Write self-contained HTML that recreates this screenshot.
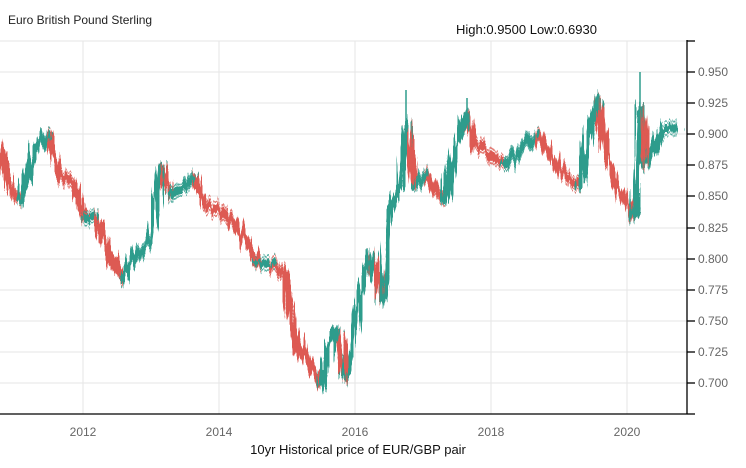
<!DOCTYPE html>
<html><head><meta charset="utf-8"><style>
html,body{margin:0;padding:0;background:#fff;}
svg{display:block;font-family:"Liberation Sans",sans-serif;}
</style></head><body>
<svg width="746" height="468" viewBox="0 0 746 468">
<g stroke="#e6e6e6" stroke-width="1">
<line x1="0" y1="41" x2="687" y2="41"/><line x1="0" y1="72" x2="687" y2="72"/><line x1="0" y1="103" x2="687" y2="103"/><line x1="0" y1="134" x2="687" y2="134"/><line x1="0" y1="165" x2="687" y2="165"/><line x1="0" y1="196" x2="687" y2="196"/><line x1="0" y1="228" x2="687" y2="228"/><line x1="0" y1="259" x2="687" y2="259"/><line x1="0" y1="290" x2="687" y2="290"/><line x1="0" y1="321" x2="687" y2="321"/><line x1="0" y1="352" x2="687" y2="352"/><line x1="0" y1="383" x2="687" y2="383"/>
<line x1="83" y1="41" x2="83" y2="414"/><line x1="219" y1="41" x2="219" y2="414"/><line x1="355" y1="41" x2="355" y2="414"/><line x1="491" y1="41" x2="491" y2="414"/><line x1="627" y1="41" x2="627" y2="414"/>
</g>
<defs>
<filter id="jit" x="-5%" y="-10%" width="110%" height="120%">
<feTurbulence type="fractalNoise" baseFrequency="0.35 0.01" numOctaves="2" seed="3" result="n"/>
<feDisplacementMap in="SourceGraphic" in2="n" scale="18" xChannelSelector="A" yChannelSelector="R"/>
</filter>
<g id="ser" fill="none" stroke-linecap="round">
<path stroke="#dd5a52" d="M0 150L10 190M10 190L20 200M48 135L60 175M60 175L75 185M75 185L85 220M95 215L108 250M108 250L122 280M160 165L170 195M195 175L205 205M205 205L220 210M220 210L232 220M232 220L245 240M245 240L258 265M270 262L285 275M285 275L292 320M292 320L300 350M300 350L310 365M310 365L322 385M338 330L345 375M372 255L382 300M407 125L415 185M425 175L435 190M435 190L445 200M467 115L475 145M475 145L490 155M490 155L505 165M535 135L550 155M550 155L565 175M565 175L580 185M598 100L605 150M605 150L615 185M615 185L625 200M625 200L635 215M640 110L645 165"/>
<path stroke="#2e9c8c" d="M20 200L35 150M35 150L48 135M85 220L95 215M122 280L135 255M135 255L150 240M150 240L160 165M170 195L185 185M185 185L195 175M258 265L270 262M322 385L330 345M330 345L338 330M345 375L350 365M350 365L360 295M360 295L372 255M382 300L390 210M390 210L400 185M400 185L407 125M415 185L425 175M445 200L455 150M455 150L467 115M505 165L520 150M520 150L535 135M580 185L590 130M590 130L598 100M635 215L640 110M645 165L660 130M660 130L670 130M670 130L678 127"/>
</g>
</defs>
<g filter="url(#jit)">
<use href="#ser" stroke-width="8"/>
<use href="#ser" stroke-width="1.5" transform="translate(0,-7)" opacity="0.8"/>
<use href="#ser" stroke-width="1.5" transform="translate(0,7)" opacity="0.8"/>
</g>
<g stroke="#2e9c8c" stroke-width="1.5">
<line x1="406" y1="90" x2="406" y2="130"/><line x1="640" y1="72" x2="640" y2="110"/><line x1="323" y1="370" x2="323" y2="391"/><line x1="598" y1="94" x2="598" y2="110"/><line x1="467" y1="98" x2="467" y2="118"/>
</g>
<g stroke="#000" stroke-width="1.3">
<line x1="0" y1="414" x2="687" y2="414"/><line x1="687" y1="40" x2="687" y2="414"/>
<line x1="687" y1="41" x2="695" y2="41"/><line x1="687" y1="72" x2="695" y2="72"/><line x1="687" y1="103" x2="695" y2="103"/><line x1="687" y1="134" x2="695" y2="134"/><line x1="687" y1="165" x2="695" y2="165"/><line x1="687" y1="196" x2="695" y2="196"/><line x1="687" y1="228" x2="695" y2="228"/><line x1="687" y1="259" x2="695" y2="259"/><line x1="687" y1="290" x2="695" y2="290"/><line x1="687" y1="321" x2="695" y2="321"/><line x1="687" y1="352" x2="695" y2="352"/><line x1="687" y1="383" x2="695" y2="383"/><line x1="687" y1="414" x2="695" y2="414"/>
</g>
<g fill="#666" font-size="12">
<text x="698" y="76">0.950</text><text x="698" y="107">0.925</text><text x="698" y="138">0.900</text><text x="698" y="169">0.875</text><text x="698" y="200">0.850</text><text x="698" y="232">0.825</text><text x="698" y="263">0.800</text><text x="698" y="294">0.775</text><text x="698" y="325">0.750</text><text x="698" y="356">0.725</text><text x="698" y="387">0.700</text>
<text x="83" y="436" text-anchor="middle">2012</text><text x="219" y="436" text-anchor="middle">2014</text><text x="355" y="436" text-anchor="middle">2016</text><text x="491" y="436" text-anchor="middle">2018</text><text x="627" y="436" text-anchor="middle">2020</text>
</g>
<text x="8" y="24" font-size="12" fill="#222">Euro British Pound Sterling</text>
<text x="456" y="34" font-size="13" fill="#111">High:0.9500 Low:0.6930</text>
<text x="358" y="454" font-size="13" fill="#111" text-anchor="middle">10yr Historical price of EUR/GBP pair</text>
</svg>
</body></html>
